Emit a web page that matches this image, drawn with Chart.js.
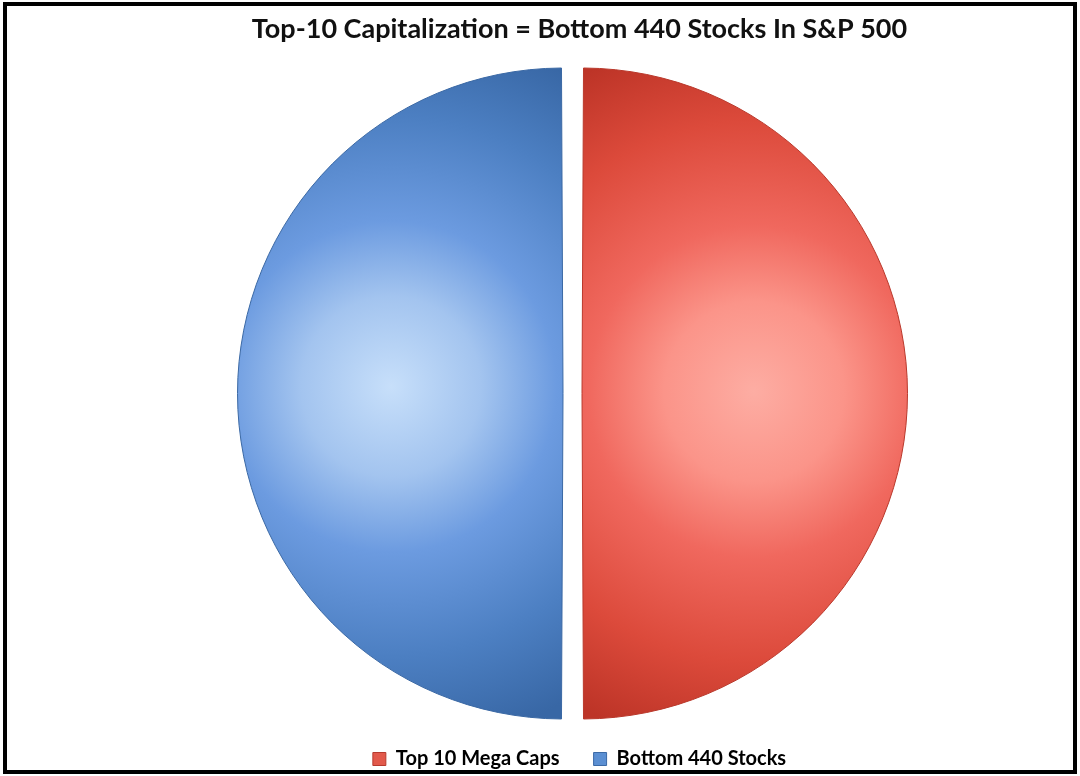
<!DOCTYPE html>
<html>
<head>
<meta charset="utf-8">
<script src="https://cdn.jsdelivr.net/npm/chart.js@4.4.1/dist/chart.umd.min.js"></script>
<style>
  html, body { margin: 0; padding: 0; background: #fff; }
  #wrap { position: relative; width: 1080px; height: 776px; }
  #frame { position: absolute; left: 3px; top: 2px; width: 1066px; height: 764px; border: 4px solid #000; pointer-events: none; }
  canvas { position: absolute; left: 0; top: 0; }
</style>
</head>
<body>
<div id="wrap">
  <canvas id="c" width="1080" height="776"></canvas>
  <div id="frame"></div>
</div>
<script>
const titleText = "Top-10 Capitalization = Bottom 440 Stocks In S&P 500";
const categories = ["Top 10 Mega Caps", "Bottom 440 Stocks"];
const values = [50, 50];
const legendColors = ["#e2594b", "#5b8fd2"];
const legendBorders = ["#b63a2e", "#3b6aa6"];

function sliceFill(ctx) {
  const chart = ctx.chart;
  const a = chart.chartArea;
  if (!a) return legendColors[ctx.dataIndex];
  const cx = (a.left + a.right) / 2;
  const cy = (a.top + a.bottom) / 2;
  const c = chart.ctx;
  if (ctx.dataIndex === 0) {
    const g = c.createRadialGradient(cx + 172, cy - 2, 0, cx + 172, cy - 2, 360);
    g.addColorStop(0, "#fdada3");
    g.addColorStop(0.25, "#fb9489");
    g.addColorStop(0.46, "#f0685e");
    g.addColorStop(0.75, "#dc4a3b");
    g.addColorStop(1, "#bd3427");
    return g;
  } else {
    const g = c.createRadialGradient(cx - 172, cy - 7, 0, cx - 172, cy - 7, 360);
    g.addColorStop(0, "#c7dffa");
    g.addColorStop(0.25, "#a3c4ef");
    g.addColorStop(0.46, "#6c9be0");
    g.addColorStop(0.75, "#4c7fc2");
    g.addColorStop(1, "#3867a5");
    return g;
  }
}

// shifts the pie a few pixels left of the title/legend centre, as in the reference
const pieShift = {
  id: "pieShift",
  beforeDatasetsDraw(chart) { chart.ctx.save(); chart.ctx.translate(-7, 0); },
  afterDatasetsDraw(chart) { chart.ctx.restore(); }
};

new Chart(document.getElementById("c"), {
  type: "pie",
  data: {
    labels: categories,
    datasets: [{
      data: values,
      backgroundColor: sliceFill,
      borderColor: ["#b9382b", "#3a68a4"],
      borderWidth: 1,
      offset: 38,
      radius: 316
    }]
  },
  options: {
    responsive: false,
    animation: false,
    layout: { padding: { left: 79, right: 0, top: 0, bottom: -3 } },
    plugins: {
      tooltip: { enabled: false },
      title: {
        display: true,
        text: titleText,
        color: "#111",
        font: { family: "Lato", size: 27, weight: "bold" },
        padding: { top: 13, bottom: 26.6 }
      },
      legend: {
        position: "bottom",
        labels: {
          color: "#111",
          font: { family: "Lato", size: 20, weight: "bold" },
          boxWidth: 13,
          boxHeight: 13,
          padding: 34,
          generateLabels: (chart) => categories.map((t, i) => ({
            text: t,
            fillStyle: legendColors[i],
            strokeStyle: legendBorders[i],
            lineWidth: 1,
            hidden: false,
            index: i
          }))
        }
      }
    }
  },
  plugins: [pieShift]
});
</script>
</body>
</html>
